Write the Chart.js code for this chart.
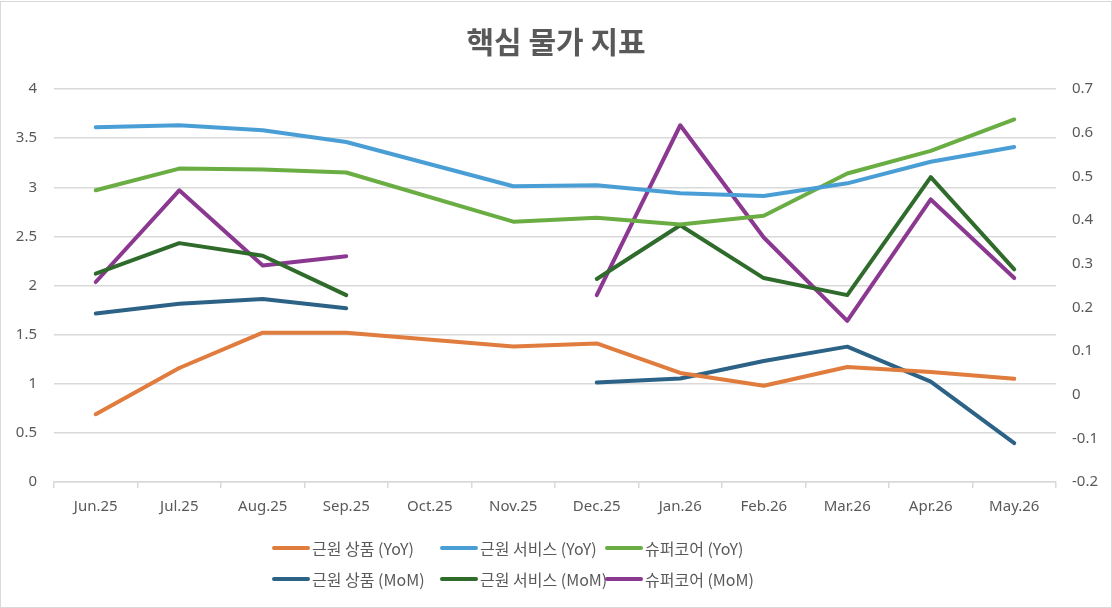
<!DOCTYPE html>
<html>
<head>
<meta charset="utf-8">
<script src="https://cdn.jsdelivr.net/npm/chart.js@4"></script>
<style>
  body { margin: 0; background: #fff; }
  #wrap { position: relative; width: 1112px; height: 608px; overflow: hidden; }
  #frame { position: absolute; left: 0; top: 1px; width: 1110px; height: 605px; border: 1px solid #d9d9d9; pointer-events: none; }
  #c { position: absolute; left: 0; top: 0; }
  .lg { position: absolute; display: flex; align-items: center; font-family: "Noto Sans CJK KR", "Noto Sans", sans-serif; font-size: 16px; color: #595959; white-space: nowrap; }
  .lg i { display: inline-block; width: 38px; height: 4px; border-radius: 2px; margin-right: 2px; }
</style>
</head>
<body>
<div id="wrap">
  <canvas id="c" width="1112" height="608"></canvas>
  <div id="legend"></div>
  <div id="frame"></div>
</div>
<script>
/* =========================
   DATA
========================= */
const months = ["Jun.25", "Jul.25", "Aug.25", "Sep.25", "Oct.25", "Nov.25",
  "Dec.25", "Jan.26", "Feb.26", "Mar.26", "Apr.26", "May.26"];

// YoY (left axis)
const goodsYoY    = [0.69, 1.16, 1.52, 1.52, null, 1.38, 1.41, 1.11, 0.98, 1.17, 1.12, 1.05];
const servicesYoY = [3.61, 3.63, 3.58, 3.46, null, 3.01, 3.02, 2.94, 2.91, 3.04, 3.26, 3.41];
const supercoreYoY = [2.97, 3.19, 3.18, 3.15, null, 2.65, 2.69, 2.62, 2.71, 3.14, 3.37, 3.69];

// MoM (right axis)
const goodsMoM    = [0.186, 0.208, 0.219, 0.198, null, null, 0.028, 0.037, 0.077, 0.110, 0.030, -0.111];
const servicesMoM = [0.277, 0.347, 0.318, 0.228, null, null, 0.265, 0.388, 0.267, 0.228, 0.498, 0.287];
const supercoreMoM = [0.258, 0.468, 0.296, 0.317, null, null, 0.228, 0.617, 0.360, 0.169, 0.447, 0.267];

const labels = ["근원 상품 (YoY)", "근원 서비스 (YoY)", "슈퍼코어 (YoY)",
  "근원 상품 (MoM)", "근원 서비스 (MoM)", "슈퍼코어 (MoM)"];
const colors = ["#E07C3E", "#4A9ED6", "#6AAD43", "#2C6286", "#2F6B2B", "#8B3891"];

/* =========================
   DATASETS
========================= */
function line(i, data, axis, span) {
  return {
    label: labels[i],
    data: data,
    yAxisID: axis,
    borderColor: colors[i],
    backgroundColor: colors[i],
    borderWidth: 4,
    borderCapStyle: "round",
    borderJoinStyle: "round",
    pointRadius: 0,
    tension: 0,
    spanGaps: span
  };
}

const datasets = [
  line(0, goodsYoY, "y", true),
  line(1, servicesYoY, "y", true),
  line(2, supercoreYoY, "y", true),
  line(3, goodsMoM, "y1", false),
  line(4, servicesMoM, "y1", false),
  line(5, supercoreMoM, "y1", false)
];

const tickFont = { family: "'Noto Sans', sans-serif", size: 15 };
const fmt = v => String(+Number(v).toFixed(2));

new Chart(document.getElementById("c"), {
  type: "line",
  data: { labels: months, datasets: datasets },
  options: {
    responsive: false,
    animation: false,
    layout: { padding: { left: 0, right: 0, top: 0, bottom: 86 } },
    plugins: {
      legend: { display: false },
      tooltip: { enabled: false },
      title: {
        display: true,
        text: "핵심 물가 지표",
        color: "#595959",
        font: { family: "'Noto Sans CJK KR', sans-serif", size: 30, weight: "bold" },
        padding: { top: 24, bottom: 29 }
      }
    },
    scales: {
      x: {
        offset: true,
        grid: { offset: true, drawOnChartArea: false, drawTicks: true, tickLength: 6, color: "#d9d9d9", lineWidth: 1.5 },
        border: { color: "#d9d9d9", width: 1.5 },
        ticks: { color: "#595959", font: tickFont, padding: 10, maxRotation: 0 },
        afterFit: s => { s.height = 40; }
      },
      y: {
        position: "left",
        min: 0, max: 4,
        ticks: { stepSize: 0.5, color: "#595959", font: tickFont, padding: 17, callback: fmt },
        grid: { color: "#d9d9d9", lineWidth: 1.5, drawTicks: false },
        border: { display: false },
        afterFit: s => { s.width = 54; }
      },
      y1: {
        position: "right",
        min: -0.2, max: 0.7,
        ticks: { stepSize: 0.1, color: "#595959", font: tickFont, padding: 16, callback: fmt },
        grid: { drawOnChartArea: false, drawTicks: false },
        border: { display: false },
        afterFit: s => { s.width = 56; }
      }
    }
  }
});

/* =========================
   LEGEND (2 rows x 3)
========================= */
const legendX = [272, 440, 605];
const legendY = [548, 579];
const legend = document.getElementById("legend");
labels.forEach((txt, i) => {
  const el = document.createElement("div");
  el.className = "lg";
  el.style.left = legendX[i % 3] + "px";
  el.style.top = (legendY[Math.floor(i / 3)] - 11) + "px";
  el.style.height = "22px";
  el.innerHTML = `<i style="background:${colors[i]}"></i>${txt}`;
  legend.appendChild(el);
});
</script>
</body>
</html>
